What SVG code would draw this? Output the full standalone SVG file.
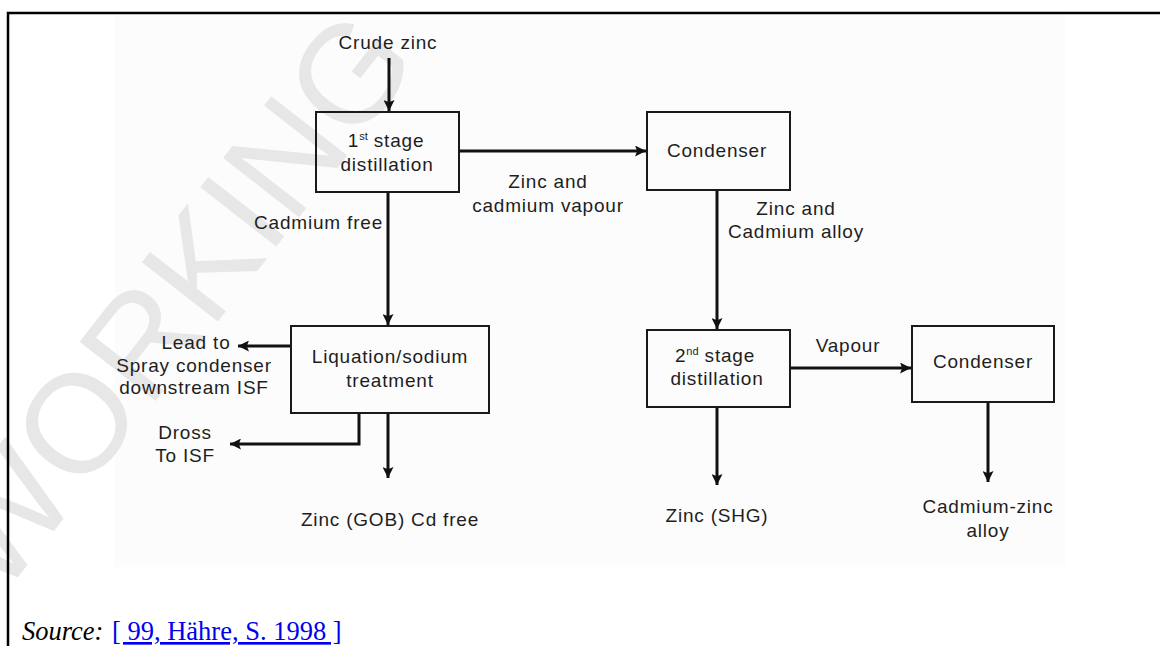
<svg xmlns="http://www.w3.org/2000/svg" width="1160" height="646" viewBox="0 0 1160 646">
  <defs>
    <marker id="ah" viewBox="0 0 10 10" refX="10" refY="5" markerWidth="11" markerHeight="11" markerUnits="userSpaceOnUse" orient="auto">
      <path d="M0,0 L10,5 L0,10 L2,5 Z" fill="#111"/>
    </marker>
    <style>
      .box { fill: none; stroke: #1a1a1a; stroke-width: 2; }
      .t { font-family: "Liberation Sans", Arial, sans-serif; font-size: 19px; letter-spacing: 0.8px; fill: #1e1e1e; text-anchor: middle; }
      .sup { font-size: 11px; letter-spacing: 0; }
      .c { fill: none; stroke: #111; stroke-width: 3; marker-end: url(#ah); }
      .wm { font-family: "Liberation Sans", Arial, sans-serif; font-size: 140px; fill: #e7e7e7; }
    </style>
  </defs>

  <rect x="0" y="0" width="1160" height="646" fill="#ffffff"/>
  <rect x="115" y="15" width="950" height="552" fill="#fcfcfc"/>

  <text class="wm" transform="translate(0,600) rotate(-52)">WORKING</text>

  <path d="M8,646 V13 H1160" fill="none" stroke="#000" stroke-width="2.5"/>

  <g id="connectors">
    <path class="c" d="M389,58 V111"/>
    <path class="c" d="M459,151 H646"/>
    <path class="c" d="M388,192 V325"/>
    <path class="c" d="M717,190 V329"/>
    <path class="c" d="M790,368 H911"/>
    <path class="c" d="M717,407 V485"/>
    <path class="c" d="M988,402 V482"/>
    <path class="c" d="M291,346 H238"/>
    <path class="c" d="M359,413 V444 H230"/>
    <path class="c" d="M388,413 V478"/>
  </g>

  <g id="stage1">
    <rect class="box" x="316" y="112" width="143" height="80"/>
    <text class="t" x="386" y="147">1<tspan class="sup" dy="-7">st</tspan><tspan dy="7"> stage</tspan></text>
    <text class="t" x="387" y="171">distillation</text>
  </g>

  <g id="condenser1">
    <rect class="box" x="647" y="112" width="143" height="78"/>
    <text class="t" x="717" y="157">Condenser</text>
  </g>

  <g id="liquation">
    <rect class="box" x="291" y="326" width="198" height="87"/>
    <text class="t" x="390" y="363">Liquation/sodium</text>
    <text class="t" x="390" y="387">treatment</text>
  </g>

  <g id="stage2">
    <rect class="box" x="647" y="330" width="143" height="77"/>
    <text class="t" x="715" y="362">2<tspan class="sup" dy="-7">nd</tspan><tspan dy="7"> stage</tspan></text>
    <text class="t" x="717" y="385">distillation</text>
  </g>

  <g id="condenser2">
    <rect class="box" x="912" y="326" width="142" height="76"/>
    <text class="t" x="983" y="368">Condenser</text>
  </g>

  <g id="crude-zinc">
    <text class="t" x="388" y="49">Crude zinc</text>
  </g>

  <g id="lead">
    <text class="t" x="196" y="349">Lead to</text>
    <text class="t" x="194" y="372">Spray condenser</text>
    <text class="t" x="194" y="394">downstream ISF</text>
  </g>

  <g id="dross">
    <text class="t" x="185" y="439">Dross</text>
    <text class="t" x="185" y="462">To ISF</text>
  </g>

  <g id="zinc-gob">
    <text class="t" x="390" y="526">Zinc (GOB) Cd free</text>
  </g>

  <g id="zinc-shg">
    <text class="t" x="717" y="522">Zinc (SHG)</text>
  </g>

  <g id="cd-zn-alloy">
    <text class="t" x="988" y="513">Cadmium-zinc</text>
    <text class="t" x="988" y="537">alloy</text>
  </g>

  <g id="labels">
    <text class="t" x="548" y="188">Zinc and</text>
    <text class="t" x="548" y="212">cadmium vapour</text>
    <text class="t" x="383" y="229" style="text-anchor:end">Cadmium free</text>
    <text class="t" x="796" y="215">Zinc and</text>
    <text class="t" x="796" y="238">Cadmium alloy</text>
    <text class="t" x="848" y="352">Vapour</text>
  </g>

  <g id="source">
    <text x="22" y="640" font-family="Liberation Serif, 'Times New Roman', serif" font-size="26.5" font-style="italic" fill="#000">Source:</text>
    <text x="112" y="640" font-family="Liberation Serif, 'Times New Roman', serif" font-size="26.5" fill="#0000ee" text-decoration="underline">[ 99, Hähre, S. 1998 ]</text>
  </g>
</svg>
